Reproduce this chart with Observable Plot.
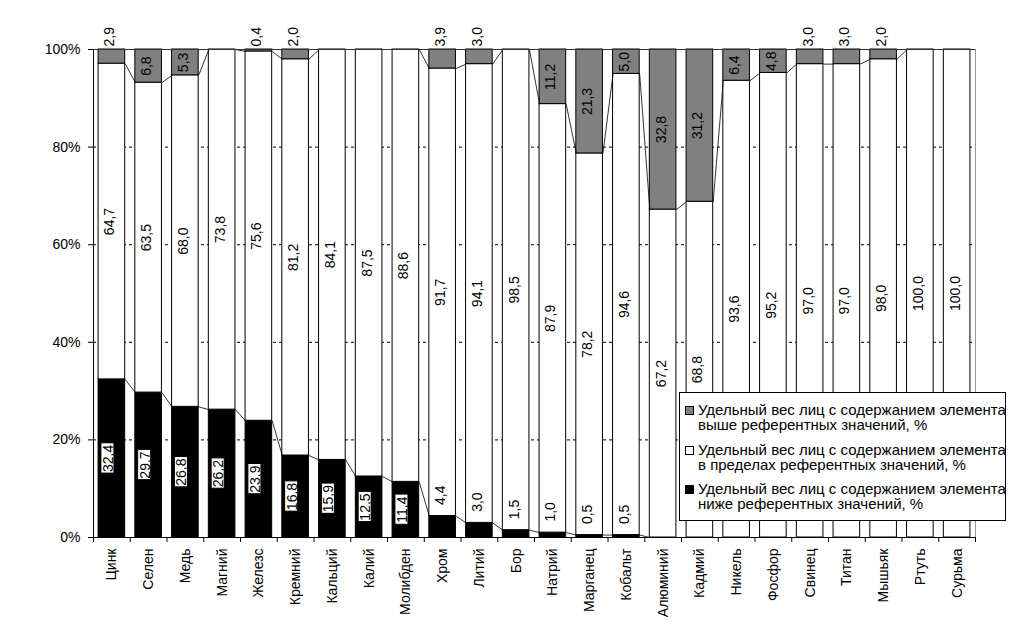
<!DOCTYPE html>
<html><head><meta charset="utf-8">
<script src="https://cdn.jsdelivr.net/npm/d3@7"></script>
<script src="https://cdn.jsdelivr.net/npm/@observablehq/plot@0.6"></script>
<style>
body{margin:0;background:#fff;font-family:"Liberation Sans",Arial,sans-serif;}
#wrap{position:relative;width:1033px;height:638px;}
#legend{position:absolute;left:679px;top:392px;width:325px;height:127px;border:1px solid #000;background:#fff;font-size:15px;line-height:15px;color:#000;box-sizing:content-box;}
.item{position:absolute;left:0;}
.sw{position:absolute;left:5px;top:4px;width:7px;height:7px;border:1px solid #000;}
.tx{position:absolute;left:18px;white-space:nowrap;}
</style></head><body><div id="wrap"><div id="chart"></div><div id="legend"></div></div>
<script>
const categories = ["Цинк","Селен","Медь","Магний","Железс","Кремний","Кальций","Калий","Молибден","Хром","Литий","Бор","Натрий","Марганец","Кобальт","Алюминий","Кадмий","Никель","Фосфор","Свинец","Титан","Мышьяк","Ртуть","Сурьма"];
const below  = [32.4,29.7,26.8,26.2,23.9,16.8,15.9,12.5,11.4,4.4,3.0,1.5,1.0,0.5,0.5,0,0,0,0,0,0,0,0,0];
const within = [64.7,63.5,68.0,73.8,75.6,81.2,84.1,87.5,88.6,91.7,94.1,98.5,87.9,78.2,94.6,67.2,68.8,93.6,95.2,97.0,97.0,98.0,100.0,100.0];
const above  = [2.9,6.8,5.3,0,0.4,2.0,0,0,0,3.9,3.0,0,11.2,21.3,5.0,32.8,31.2,6.4,4.8,3.0,3.0,2.0,0,0];
const yTicks = [0,20,40,60,80,100];
const gridTicks = [20,40,60,80];
const legendLine1 = "Удельный вес лиц с содержанием элемента";
const legendLine2 = ["выше референтных значений, %","в пределах референтных значений, %","ниже референтных значений, %"];
const legendColors = ["#808080","#ffffff","#000000"];

const fmt = v => v.toFixed(1).replace(".", ",");
const h = 0.362;
const rows = categories.map((c,i)=>{
  const t = below[i]+within[i]+above[i];
  return {i, c, b: below[i]/t*100, w: (below[i]+within[i])/t*100, bv: below[i], wv: within[i], av: above[i]};
});
const pairs = rows.slice(0,-1).map((d,k)=>({a:d, n:rows[k+1]}));
const bigBelow = rows.filter(d=>d.bv>=5);
const smallBelow = rows.filter(d=>d.bv>0 && d.bv<5);
const bigAbove = rows.filter(d=>d.av>=4.5);
const smallAbove = rows.filter(d=>d.av>0 && d.av<4.5);
const boxHalf = 3.1;

const chart = Plot.plot({
  width: 1033, height: 638,
  marginTop: 49, marginBottom: 101, marginLeft: 93, marginRight: 58,
  style: {fontFamily: '"Liberation Sans", Arial, sans-serif', fontSize: "14px", color: "#000", background: "#fff"},
  x: {domain: [-0.5, 23.5], label: null},
  y: {domain: [0, 100], label: null},
  marks: [
    Plot.gridY(gridTicks, {stroke: "#000", strokeOpacity: 1, strokeDasharray: "3,3", strokeWidth: 1}),
    Plot.rectY(rows.filter(d=>d.bv>0), {x1: d=>d.i-h, x2: d=>d.i+h, y1: d=>0, y2: "b", fill: "#000", stroke: "#000"}),
    Plot.rectY(rows, {x1: d=>d.i-h, x2: d=>d.i+h, y1: "b", y2: "w", fill: "#fff", stroke: "#000"}),
    Plot.rectY(rows.filter(d=>d.av>0), {x1: d=>d.i-h, x2: d=>d.i+h, y1: "w", y2: d=>100, fill: "#808080", stroke: "#000"}),
    Plot.link(pairs, {x1: d=>d.a.i+h, x2: d=>d.n.i-h, y1: d=>d.a.b, y2: d=>d.n.b, stroke: "#000", strokeWidth: 0.8}),
    Plot.link(pairs, {x1: d=>d.a.i+h, x2: d=>d.n.i-h, y1: d=>d.a.w, y2: d=>d.n.w, stroke: "#000", strokeWidth: 0.8}),
    Plot.rectY(bigBelow, {x1: d=>d.i-0.285, x2: d=>d.i+0.07, y1: d=>d.b/2-boxHalf, y2: d=>d.b/2+boxHalf, fill: "#fff", stroke: "#000"}),
    Plot.text(bigBelow, {x: "i", y: d=>d.b/2, text: d=>fmt(d.bv), rotate: -90, fill: "#000", dx: -3.5}),
    Plot.text(smallBelow, {x: "i", y: "b", text: d=>fmt(d.bv), rotate: -90, textAnchor: "start", dy: -11, fill: "#000", dx: -2}),
    Plot.text(rows, {x: "i", y: d=>(d.b+d.w)/2, text: d=>fmt(d.wv), rotate: -90, fill: "#000", dx: -2}),
    Plot.text(bigAbove, {x: "i", y: d=>(d.w+100)/2, text: d=>fmt(d.av), rotate: -90, fill: "#000", dx: -2}),
    Plot.text(smallAbove, {x: "i", y: d=>100, text: d=>fmt(d.av), rotate: -90, textAnchor: "start", dy: -3, fill: "#000", dx: -2}),
    Plot.ruleY([100], {stroke: "#333"}),
    Plot.ruleX([23.5], {stroke: "#999"}),
    Plot.ruleX([-0.5], {stroke: "#000"}),
    Plot.ruleY([0], {stroke: "#000"}),
    Plot.axisY(yTicks, {tickFormat: d=>d+"%", tickSize: 5, tickPadding: 8, stroke: "#000", fill: "#000"}),
    Plot.axisX(d3.range(categories.length), {tickFormat: i=>categories[i], tickRotate: -90, tickSize: 0, tickPadding: 11, fill: "#000"}),
    Plot.axisX(d3.range(categories.length+1).map(i=>i-0.5), {tickFormat: ()=>"", tickSize: 5, stroke: "#000"})
  ]
});
document.getElementById("chart").appendChild(chart);

const lg = d3.select("#legend");
legendColors.forEach((col,k)=>{
  const it = lg.append("div").attr("class","item").style("top", (9 + k*39.5) + "px");
  it.append("div").attr("class","sw").style("background", col);
  it.append("div").attr("class","tx").html(legendLine1 + "<br>" + legendLine2[k]);
});
</script></body></html>
